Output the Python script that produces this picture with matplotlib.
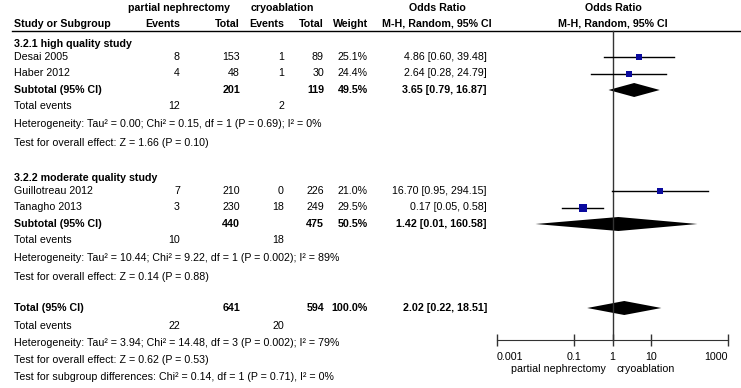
import matplotlib
matplotlib.use("Agg")
import matplotlib.pyplot as plt

plt.rcParams['font.family'] = ['Liberation Sans', 'DejaVu Sans']

# study level data
studies = ["Desai 2005", "Haber 2012", "Guillotreau 2012", "Tanagho 2013"]
pn_events = [8, 4, 7, 3]
pn_total = [153, 48, 210, 230]
cr_events = [1, 1, 0, 18]
cr_total = [89, 30, 226, 249]
weights = [25.1, 24.4, 21.0, 29.5]
or_est = [4.86, 2.64, 16.70, 0.17]
or_lo = [0.60, 0.28, 0.95, 0.05]
or_hi = [39.48, 24.79, 294.15, 0.58]

# subgroups
groups = ["3.2.1 high quality study", "3.2.2 moderate quality study"]
sub_pn_total = [201, 440]
sub_cr_total = [119, 475]
sub_weight = [49.5, 50.5]
sub_pn_events = [12, 10]
sub_cr_events = [2, 18]
sub_or = [3.65, 1.42]
sub_lo = [0.79, 0.01]
sub_hi = [16.87, 160.58]
sub_het = ["Heterogeneity: Tau\u00b2 = 0.00; Chi\u00b2 = 0.15, df = 1 (P = 0.69); I\u00b2 = 0%",
           "Heterogeneity: Tau\u00b2 = 10.44; Chi\u00b2 = 9.22, df = 1 (P = 0.002); I\u00b2 = 89%"]
sub_z = ["Test for overall effect: Z = 1.66 (P = 0.10)",
         "Test for overall effect: Z = 0.14 (P = 0.88)"]

# overall
tot_pn_total, tot_cr_total = 641, 594
tot_pn_events, tot_cr_events = 22, 20
tot_or, tot_lo, tot_hi = 2.02, 0.22, 18.51
tot_het = "Heterogeneity: Tau\u00b2 = 3.94; Chi\u00b2 = 14.48, df = 3 (P = 0.002); I\u00b2 = 79%"
tot_z = "Test for overall effect: Z = 0.62 (P = 0.53)"
sub_diff = "Test for subgroup differences: Chi\u00b2 = 0.14, df = 1 (P = 0.71), I\u00b2 = 0%"

ticks = [0.001, 0.1, 1, 10, 1000]
tick_labels = ["0.001", "0.1", "1", "10", "1000"]

fs = 7.7
W, H = 741, 388
fig = plt.figure(figsize=(W / 100, H / 100), dpi=100)
ax = fig.add_axes([0, 0, 1, 1])
ax.set_xlim(0, W)
ax.set_ylim(H, 0)
ax.axis("off")

# forest panel
x0, x1 = 497, 728
ax2 = fig.add_axes([x0 / W, 0, (x1 - x0) / W, 1])
ax2.set_xscale("log")
ax2.set_xlim(1e-3, 1e3)
ax2.set_ylim(H, 0)
ax2.patch.set_alpha(0)
for s in ["top", "left", "right"]:
    ax2.spines[s].set_visible(False)
ax2.spines["bottom"].set_position(("data", 340))
ax2.spines["bottom"].set_color("#333333")
ax2.set_yticks([])
ax2.set_xticks(ticks)
ax2.set_xticklabels(tick_labels, fontsize=fs)
ax2.minorticks_off()
ax2.tick_params(axis="x", direction="inout", length=9, width=1, color="#333333", pad=4)
lbls = ax2.get_xticklabels()
lbls[0].set_ha("left")
lbls[-1].set_ha("right")

# columns (right edges)
c_ev1, c_tot1, c_ev2, c_tot2, c_w, c_or = 180, 240, 284, 324, 368, 487
xs = 14


def txt(x, y, s, ha="left", bold=False):
    ax.text(x, y, s, ha=ha, va="center", fontsize=fs,
            fontweight="bold" if bold else "normal")


# headers
txt(179, 8, "partial nephrectomy", ha="center", bold=True)
txt(282, 8, "cryoablation", ha="center", bold=True)
txt(437, 8, "Odds Ratio", ha="center", bold=True)
txt(613, 8, "Odds Ratio", ha="center", bold=True)
txt(xs, 24, "Study or Subgroup", bold=True)
txt(c_ev1, 24, "Events", ha="right", bold=True)
txt(c_tot1, 24, "Total", ha="right", bold=True)
txt(c_ev2, 24, "Events", ha="right", bold=True)
txt(c_tot2, 24, "Total", ha="right", bold=True)
txt(c_w, 24, "Weight", ha="right", bold=True)
txt(437, 24, "M-H, Random, 95% CI", ha="center", bold=True)
txt(613, 24, "M-H, Random, 95% CI", ha="center", bold=True)
ax.plot([12, W], [31, 31], color="black", lw=1)

ax2.plot([1, 1], [31, 340], color="#333333", lw=1)

blue = "#0a0a9e"
group_top = [44, 178]
idx = [[0, 1], [2, 3]]
for g in range(2):
    y = group_top[g]
    txt(xs, y, groups[g], bold=True)
    for k, i in enumerate(idx[g]):
        yy = y + 12.5 + 17 * k
        txt(xs, yy, studies[i])
        txt(c_ev1, yy, str(pn_events[i]), ha="right")
        txt(c_tot1, yy, str(pn_total[i]), ha="right")
        txt(c_ev2, yy, str(cr_events[i]), ha="right")
        txt(c_tot2, yy, str(cr_total[i]), ha="right")
        txt(c_w, yy, "%.1f%%" % weights[i], ha="right")
        txt(c_or, yy, "%.2f [%.2f, %.2f]" % (or_est[i], or_lo[i], or_hi[i]), ha="right")
        ax2.plot([or_lo[i], or_hi[i]], [yy, yy], color="black", lw=1)
        ax2.plot(or_est[i], yy, "s", color=blue, ms=weights[i] * 0.18, mew=0)
    ys = y + 46
    txt(xs, ys, "Subtotal (95% CI)", bold=True)
    txt(c_tot1, ys, str(sub_pn_total[g]), ha="right", bold=True)
    txt(c_tot2, ys, str(sub_cr_total[g]), ha="right", bold=True)
    txt(c_w, ys, "%.1f%%" % sub_weight[g], ha="right", bold=True)
    txt(c_or, ys, "%.2f [%.2f, %.2f]" % (sub_or[g], sub_lo[g], sub_hi[g]), ha="right", bold=True)
    ax2.fill([sub_lo[g], sub_or[g], sub_hi[g], sub_or[g]], [ys, ys - 7, ys, ys + 7],
             color="black", lw=0)
    txt(xs, y + 62, "Total events")
    txt(c_ev1, y + 62, str(sub_pn_events[g]), ha="right")
    txt(c_ev2, y + 62, str(sub_cr_events[g]), ha="right")
    txt(xs, y + 80, sub_het[g])
    txt(xs, y + 99, sub_z[g])

# overall
yt = 308
txt(xs, yt, "Total (95% CI)", bold=True)
txt(c_tot1, yt, str(tot_pn_total), ha="right", bold=True)
txt(c_tot2, yt, str(tot_cr_total), ha="right", bold=True)
txt(c_w, yt, "100.0%", ha="right", bold=True)
txt(c_or, yt, "%.2f [%.2f, %.2f]" % (tot_or, tot_lo, tot_hi), ha="right", bold=True)
ax2.fill([tot_lo, tot_or, tot_hi, tot_or], [yt, yt - 7, yt, yt + 7], color="black", lw=0)
txt(xs, 326, "Total events")
txt(c_ev1, 326, str(tot_pn_events), ha="right")
txt(c_ev2, 326, str(tot_cr_events), ha="right")
txt(xs, 343, tot_het)
txt(xs, 360, tot_z)
txt(xs, 377, sub_diff)

txt(558, 369, "partial nephrectomy", ha="center")
txt(646, 369, "cryoablation", ha="center")

fig.savefig("out.png", dpi=100)
